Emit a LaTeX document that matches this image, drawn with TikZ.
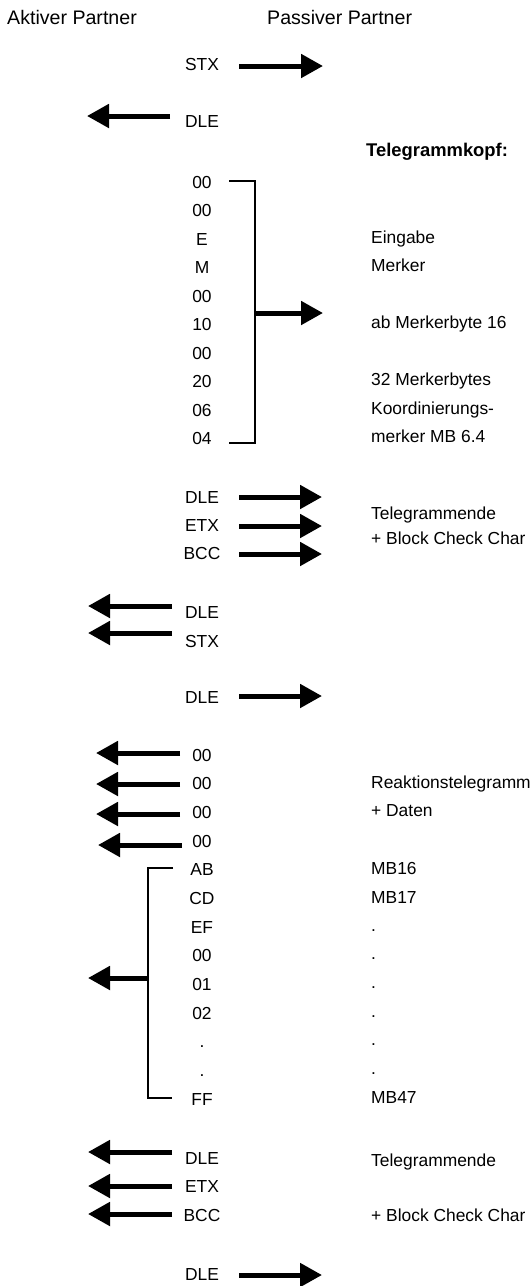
\documentclass[tikz,border=0pt]{standalone}
\usepackage{fontspec}
\setmainfont{Liberation Sans}
\usetikzlibrary{arrows.meta}
\begin{document}
\begin{tikzpicture}[x=1pt,y=-1pt,
  lbl/.style={inner sep=0pt, text height=12.5pt, text depth=0pt, font=\fontsize{17.4}{20}\selectfont},
  rlbl/.style={lbl, anchor=west},
  hdr/.style={inner sep=0pt, text height=14pt, text depth=0pt, anchor=west, font=\fontsize{19.6}{22}\selectfont},
  sig/.style={line width=5pt, -{Triangle[length=22pt,width=23pt]}},
  brk/.style={line width=2pt, line join=miter}]
\useasboundingbox (0,0) rectangle (530,1286);

% headers
\node[hdr] (akt) at (7,17) {Aktiver Partner};
\node[hdr] (pas) at (267,17) {Passiver Partner};

% start
\node[lbl] (stx1) at (202,64) {STX};
\coordinate (stx1a) at (239,66); \coordinate (stx1b) at (323,66);
\draw[sig] (stx1a) -- (stx1b);
\node[lbl] (dle1) at (202,121) {DLE};
\coordinate (dle1a) at (170,116); \coordinate (dle1b) at (87,116);
\draw[sig] (dle1a) -- (dle1b);

\node[rlbl, font=\fontsize{18.4}{21}\selectfont\bfseries, text height=13.2pt] (kopf) at (366,150) {Telegrammkopf:};

% block 1
\foreach \t [count=\i] in {00,00,E,M,00,10,00,20,06,04}
  \node[lbl] (a\i) at (202,{182+28.5*(\i-1)}) {\t};
\coordinate (br1a) at (229,181); \coordinate (br1b) at (255,181);
\coordinate (br1c) at (255,443); \coordinate (br1d) at (229,443);
\draw[brk] (br1a) -- (br1b) -- (br1c) -- (br1d);
\coordinate (br1m) at (254,313); \coordinate (br1e) at (323,313);
\draw[sig] (br1m) -- (br1e);

\node[rlbl] (r3) at (371,237) {Eingabe};
\node[rlbl] (r4) at (371,265.5) {Merker};
\node[rlbl] (r6) at (371,322.5) {ab Merkerbyte 16};
\node[rlbl] (r8) at (371,379.5) {32 Merkerbytes};
\node[rlbl] (r9) at (371,408) {Koordinierungs-};
\node[rlbl] (r10) at (371,436.5) {merker MB 6.4};

% end of request telegram
\node[lbl] (dle2) at (202,497) {DLE};
\coordinate (dle2a) at (239,497); \coordinate (dle2b) at (322,497);
\draw[sig] (dle2a) -- (dle2b);
\node[lbl] (etx2) at (202,525) {ETX};
\coordinate (etx2a) at (239,526); \coordinate (etx2b) at (322,526);
\draw[sig] (etx2a) -- (etx2b);
\node[lbl] (bcc2) at (202,553) {BCC};
\coordinate (bcc2a) at (239,554); \coordinate (bcc2b) at (322,554);
\draw[sig] (bcc2a) -- (bcc2b);
\node[rlbl] (te1) at (371,513) {Telegrammende};
\node[rlbl] (bc1) at (371,538) {+ Block Check Char};

\node[lbl] (dle3) at (202,612) {DLE};
\coordinate (dle3a) at (172,606); \coordinate (dle3b) at (88,606);
\draw[sig] (dle3a) -- (dle3b);
\node[lbl] (stx3) at (202,641) {STX};
\coordinate (stx3a) at (172,633); \coordinate (stx3b) at (88,633);
\draw[sig] (stx3a) -- (stx3b);

\node[lbl] (dle4) at (202,697) {DLE};
\coordinate (dle4a) at (239,696); \coordinate (dle4b) at (322,696);
\draw[sig] (dle4a) -- (dle4b);

% reaction telegram
\foreach \t [count=\i] in {00,00,00,00,AB,CD,EF,00,01,02,.,.,FF}
  \node[lbl] (b\i) at (202,{755+28.65*(\i-1)}) {\t};
\coordinate (z1a) at (180,753); \coordinate (z1b) at (96,753);
\draw[sig] (z1a) -- (z1b);
\coordinate (z2a) at (180,784); \coordinate (z2b) at (96,784);
\draw[sig] (z2a) -- (z2b);
\coordinate (z3a) at (180,814); \coordinate (z3b) at (96,814);
\draw[sig] (z3a) -- (z3b);
\coordinate (z4a) at (182,845); \coordinate (z4b) at (98,845);
\draw[sig] (z4a) -- (z4b);

\coordinate (br2a) at (173,868); \coordinate (br2b) at (148,868);
\coordinate (br2c) at (148,1098); \coordinate (br2d) at (172,1098);
\draw[brk] (br2a) -- (br2b) -- (br2c) -- (br2d);
\coordinate (br2m) at (149,978); \coordinate (br2e) at (88,978);
\draw[sig] (br2m) -- (br2e);

\node[rlbl] (rk) at (371,782) {Reaktionstelegramm};
\node[rlbl] (rd) at (371,810) {+ Daten};
\node[rlbl] (m16) at (371,868) {MB16};
\node[rlbl] (m17) at (371,897) {MB17};
\foreach \i in {0,...,5}
  \node[rlbl] (d\i) at (371,{925+28.65*\i}) {.};
\node[rlbl] (m47) at (371,1097.5) {MB47};

% end of reaction telegram
\node[lbl] (dle5) at (202,1158) {DLE};
\coordinate (dle5a) at (172,1152); \coordinate (dle5b) at (88,1152);
\draw[sig] (dle5a) -- (dle5b);
\node[lbl] (etx5) at (202,1186) {ETX};
\coordinate (etx5a) at (172,1186); \coordinate (etx5b) at (88,1186);
\draw[sig] (etx5a) -- (etx5b);
\node[lbl] (bcc5) at (202,1215) {BCC};
\coordinate (bcc5a) at (172,1214); \coordinate (bcc5b) at (88,1214);
\draw[sig] (bcc5a) -- (bcc5b);
\node[rlbl] (te2) at (371,1160) {Telegrammende};
\node[rlbl] (bc2) at (371,1215) {+ Block Check Char};

\node[lbl] (dle6) at (202,1274) {DLE};
\coordinate (dle6a) at (239,1275); \coordinate (dle6b) at (322,1275);
\draw[sig] (dle6a) -- (dle6b);
\end{tikzpicture}
\end{document}
